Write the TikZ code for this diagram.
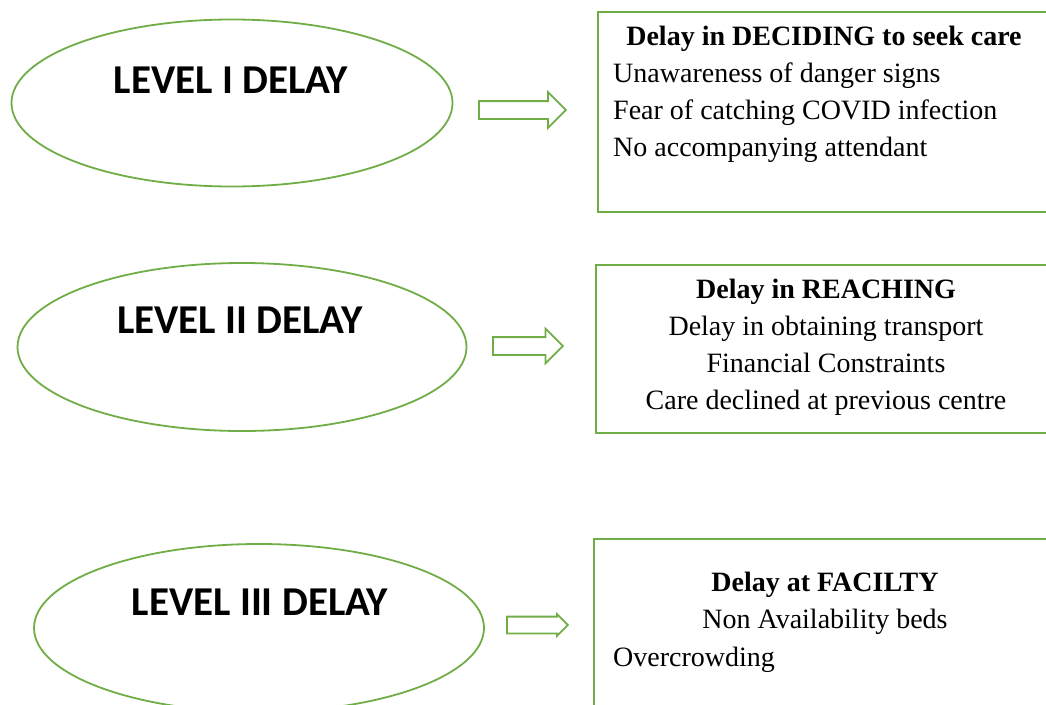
\documentclass[tikz,border=0pt]{standalone}
\usepackage{fontspec}
\setmainfont{Liberation Serif}
\newfontfamily\levelfont{Carlito}
\usetikzlibrary{shapes.geometric,shapes.arrows,positioning}
\definecolor{leaf}{HTML}{70AD47}

\tikzset{
  delayoval/.style={ellipse,draw=leaf,line width=1.8pt,inner sep=0pt},
  reasonbox/.style={rectangle,draw=leaf,line width=2.2pt,inner sep=0pt,anchor=north west},
  blockarrow/.style={single arrow,draw=leaf,line width=1.8pt,inner xsep=0pt,anchor=west,
    single arrow tip angle=90},
  levellabel/.style={font=\levelfont\bfseries\fontsize{41}{48}\selectfont,anchor=base,inner sep=0pt},
  reasonhead/.style={font=\bfseries\fontsize{28}{33}\selectfont,anchor=base,inner sep=0pt},
  reasonmid/.style={font=\fontsize{28}{33}\selectfont,anchor=base,inner sep=0pt},
  reasonleft/.style={font=\fontsize{28}{33}\selectfont,anchor=base west,inner sep=0pt}
}

\begin{document}
\begin{tikzpicture}[x=1pt,y=-1pt]
\clip (0,0) rectangle (1046,704);
% the three levels
\node[delayoval,minimum width=441pt,minimum height=167pt] (lvlI) at (232,103) {};
\node[delayoval,minimum width=449pt,minimum height=168pt] (lvlII) at (242,347) {};
\node[delayoval,minimum width=450pt,minimum height=168pt] (lvlIII) at (259,628) {};
\node[levellabel] (lblI) at (231,93) {LEVEL I DELAY};
\node[levellabel] (lblII) at (240,333) {LEVEL II DELAY};
\node[levellabel] (lblIII) at (260,615) {LEVEL III DELAY};
% hollow arrows
\node[blockarrow,minimum height=87pt,inner ysep=8pt,single arrow head extend=9pt] (arrI) at (478,110) {};
\node[blockarrow,minimum height=70pt,inner ysep=8pt,single arrow head extend=8.5pt] (arrII) at (492,346) {};
\node[blockarrow,minimum height=61pt,inner ysep=7.5pt,single arrow head extend=2.5pt] (arrIII) at (506,625) {};
% the boxes of reasons
\node[reasonbox,minimum width=480pt,minimum height=200pt] (boxI) at (597,11) {};
\node[reasonbox,minimum width=480pt,minimum height=168pt] (boxII) at (595,264) {};
\node[reasonbox,minimum width=480pt,minimum height=190pt] (boxIII) at (593,538) {};
\node[reasonhead] (headI) at (824,45) {Delay in DECIDING to seek care};
\node[reasonleft] (why1) at (613,82) {Unawareness of danger signs};
\node[reasonleft] (why2) at (613,119) {Fear of catching COVID infection};
\node[reasonleft] (why3) at (613,156) {No accompanying attendant};
\node[reasonhead] (headII) at (826,298) {Delay in REACHING};
\node[reasonmid] (why4) at (826,335) {Delay in obtaining transport};
\node[reasonmid] (why5) at (826,372) {Financial Constraints};
\node[reasonmid] (why6) at (826,409) {Care declined at previous centre};
\node[reasonhead] (headIII) at (825,591) {Delay at FACILTY};
\node[reasonmid] (why7) at (825,628) {Non Availability beds};
\node[reasonleft] (why8) at (613,666) {Overcrowding};
\end{tikzpicture}
\end{document}
